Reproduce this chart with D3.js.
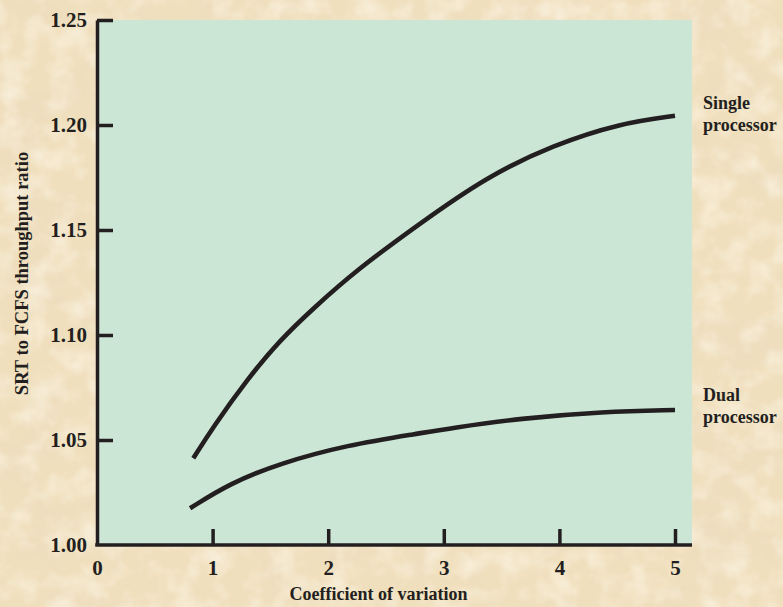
<!DOCTYPE html>
<html>
<head>
<meta charset="utf-8">
<script src="https://cdn.jsdelivr.net/npm/d3@7"></script>
<style>
  html, body { margin: 0; padding: 0; background: #f0dfbd; }
  svg { display: block; }
</style>
</head>
<body>
<svg id="chart" width="783" height="607"></svg>
<script>
// data
const singleX = [0.833, 1.006, 1.295, 1.583, 1.871, 2.246, 2.794, 3.371, 3.947, 4.524, 5.0];
const singleY = [1.0413, 1.0563, 1.0786, 1.0976, 1.1127, 1.1310, 1.1532, 1.1754, 1.1905, 1.2008, 1.2044];
const dualX = [0.805, 1.15, 1.583, 2.16, 2.794, 3.054, 3.66, 4.38, 5.0];
const dualY = [1.0175, 1.0294, 1.0389, 1.0476, 1.0532, 1.0556, 1.0603, 1.0635, 1.0643];
const xTicks = [0, 1, 2, 3, 4, 5];
const yTicks = [1.00, 1.05, 1.10, 1.15, 1.20, 1.25];
const seriesLabels = [["Single", "processor"], ["Dual", "processor"]];

const ink = "#231f20";
const font = "'Liberation Serif', 'Times New Roman', serif";

const svg = d3.select("#chart");

// parchment texture
const defs = svg.append("defs");
const f = defs.append("filter").attr("id", "paper")
  .attr("x", 0).attr("y", 0).attr("width", "100%").attr("height", "100%");
f.append("feTurbulence").attr("type", "fractalNoise")
  .attr("baseFrequency", "0.016").attr("numOctaves", 4).attr("seed", 7);
f.append("feColorMatrix").attr("type", "matrix")
  .attr("values", "0 0 0 0 0.84  0 0 0 0 0.72  0 0 0 0 0.53  1.2 0 0 0 -0.5");
const f2 = defs.append("filter").attr("id", "paper2")
  .attr("x", 0).attr("y", 0).attr("width", "100%").attr("height", "100%");
f2.append("feTurbulence").attr("type", "fractalNoise")
  .attr("baseFrequency", "0.04").attr("numOctaves", 3).attr("seed", 3);
f2.append("feColorMatrix").attr("type", "matrix")
  .attr("values", "0 0 0 0 0.99  0 0 0 0 0.95  0 0 0 0 0.85  0 1.2 0 0 -0.5");

svg.append("rect").attr("width", 783).attr("height", 607).attr("fill", "#f0dfbd");
svg.append("rect").attr("width", 783).attr("height", 607).attr("filter", "url(#paper)");
svg.append("rect").attr("width", 783).attr("height", 607).attr("filter", "url(#paper2)");

// scales
const x = d3.scaleLinear().domain([0, 5]).range([97, 675]);
const y = d3.scaleLinear().domain([1.0, 1.25]).range([545, 20]);
const plotRight = x(5) + 17;

// plot area
svg.append("rect")
  .attr("x", x(0)).attr("y", y(1.25))
  .attr("width", plotRight - x(0)).attr("height", y(1.0) - y(1.25))
  .attr("fill", "#cbe6d5");

// curves
const line = d3.line().x(d => x(d[0])).y(d => y(d[1])).curve(d3.curveBasis);
const series = [d3.zip(singleX, singleY), d3.zip(dualX, dualY)];
svg.selectAll("path.curve")
  .data(series)
  .join("path")
  .attr("class", "curve")
  .attr("d", line)
  .attr("fill", "none")
  .attr("stroke", ink)
  .attr("stroke-width", 4.6)
  .attr("stroke-linecap", "butt");

// axes
const yAxis = svg.append("g")
  .attr("transform", `translate(${x(0)},0)`)
  .call(d3.axisLeft(y).tickValues(yTicks).tickFormat(d3.format(".2f"))
    .tickSize(-16).tickSizeOuter(0).tickPadding(10));
yAxis.selectAll(".tick line").filter(d => d === 1.0).remove();

const xAxis = svg.append("g")
  .attr("transform", `translate(0,${y(1.0)})`)
  .call(d3.axisBottom(x).tickValues(xTicks).tickFormat(d3.format("d"))
    .tickSize(-16).tickSizeOuter(0).tickPadding(15));
xAxis.selectAll(".tick line").filter(d => d === 0).remove();
xAxis.select(".domain").remove();
xAxis.append("line")
  .attr("x1", x(0) - 1.75).attr("x2", plotRight)
  .attr("stroke", ink).attr("stroke-width", 3.5);

svg.selectAll(".domain").attr("stroke", ink).attr("stroke-width", 3.5);
svg.selectAll(".tick line").attr("stroke", ink).attr("stroke-width", 3.5);
svg.selectAll(".tick text")
  .attr("fill", ink)
  .style("font-family", font)
  .style("font-weight", "bold")
  .style("font-size", "21px");

// axis titles
svg.append("text")
  .attr("x", (x(0) + plotRight) / 2 - 16).attr("y", 600)
  .attr("text-anchor", "middle")
  .attr("fill", ink)
  .style("font-family", font).style("font-weight", "bold").style("font-size", "18px")
  .text("Coefficient of variation");

svg.append("text")
  .attr("transform", `translate(28,${y(1.125) - 9}) rotate(-90)`)
  .attr("text-anchor", "middle")
  .attr("fill", ink)
  .style("font-family", font).style("font-weight", "bold").style("font-size", "18.5px")
  .text("SRT to FCFS throughput ratio");

// series labels next to curve ends
const labelY = [y(singleY[singleY.length - 1]) - 7, y(dualY[dualY.length - 1]) - 9];
seriesLabels.forEach((lines, i) => {
  const t = svg.append("text")
    .attr("x", plotRight + 11).attr("y", labelY[i])
    .attr("fill", ink)
    .style("font-family", font).style("font-weight", "bold").style("font-size", "18px");
  lines.forEach((s, j) => {
    t.append("tspan").attr("x", plotRight + 11).attr("dy", j === 0 ? 0 : 22).text(s);
  });
});
</script>
</body>
</html>
